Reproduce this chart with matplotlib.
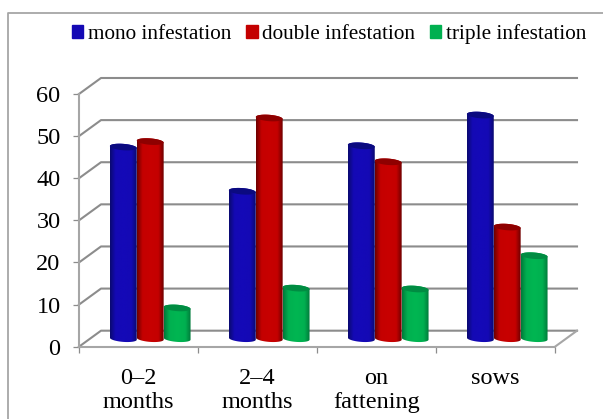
import numpy as np
import matplotlib
matplotlib.use('Agg')
import matplotlib.pyplot as plt
from matplotlib.colors import LinearSegmentedColormap
from matplotlib.lines import Line2D
from matplotlib.patches import Patch, PathPatch
from matplotlib.path import Path

categories = ['0–2\nmonths', '2–4\nmonths', 'on\nfattening', 'sows']
mono = [45.5, 35.0, 45.8, 53.1]
double = [46.8, 52.4, 42.0, 26.5]
triple = [7.3, 12.0, 11.8, 19.7]
series_names = ['mono infestation', 'double infestation', 'triple infestation']
yticks = [0, 10, 20, 30, 40, 50, 60]

GRAY = '#8c8c8c'
W, H = 603, 419
plt.rcParams['font.family'] = 'Liberation Serif'

fig = plt.figure(figsize=(W/100, H/100), dpi=100)
# front plane of the fake 3d box
left, right, top, bottom = 79, 555, 94, 346.7
ax = fig.add_axes([left/W, 1-bottom/H, (right-left)/W, (bottom-top)/H])
ax.set_facecolor('none')

# depth of the box in data units
dx = 22/119
dy = 16/4.21

# outer frame
fig.add_artist(Line2D([8/W, 8/W, 1], [0, 1-13/H, 1-13/H], color='#a6a6a6', lw=1.3))

# back wall, side wall and floor
for v in yticks:
    ax.plot([-0.5, -0.5+dx, 3.5+dx], [v, v+dy, v+dy], color=GRAY, lw=1.5, clip_on=False, zorder=1)
ax.plot([3.5, 3.5+dx], [0, dy], color='#a6a6a6', lw=1.5, clip_on=False, zorder=1)


def cylinder(x, v, w, cols, cap):
    # body outline with tilted ellipse ends, value is read at mid depth
    a = w/2
    b = 3.2/4.21
    k = 1.0/4.21
    base = dy/2
    h = base + v
    t1 = np.linspace(np.pi, 2*np.pi, 30)
    t2 = np.linspace(0, np.pi, 30)
    xs = np.r_[x+a*np.cos(t1), x+a*np.cos(t2)]
    ys = np.r_[base+b*np.sin(t1)-k*np.cos(t1), h+b*np.sin(t2)-k*np.cos(t2)]
    clip = PathPatch(Path(np.c_[xs, ys]), transform=ax.transData, fc='none', ec='none')
    ax.add_patch(clip)
    cmap = LinearSegmentedColormap.from_list('c', list(zip([0, 0.2, 0.5, 0.8, 1], cols)))
    im = ax.imshow(np.linspace(0, 1, 64)[None, :], extent=[x-a, x+a, base-1, h+1],
                   aspect='auto', cmap=cmap, zorder=3, interpolation='bilinear')
    im.set_clip_path(clip)
    t = np.linspace(0, 2*np.pi, 60)
    ax.fill(x+a*np.cos(t), h+b*np.sin(t)-k*np.cos(t), color=cap, zorder=3, lw=0)


w = 0.226
series = [mono, double, triple]
grads = [['#0a0a70', '#1409b4', '#1409b8', '#1409b4', '#0a0a70'],
         ['#6e0000', '#c40000', '#c80000', '#c40000', '#6e0000'],
         ['#007a3a', '#00b050', '#00b652', '#00b050', '#007a3a']]
caps = ['#0b0a80', '#8e0000', '#008c42']
colors = ['#1409b4', '#c40000', '#00b050']
for i in range(len(categories)):
    for j, vals in enumerate(series):
        cylinder(i + dx/2 + 0.006 + (j-1)*w, vals[i], w, grads[j], caps[j])

ax.set_xlim(-0.5, 3.5)
ax.set_ylim(0, 60)
for s in ['top', 'right']:
    ax.spines[s].set_visible(False)
for s in ['left', 'bottom']:
    ax.spines[s].set_color('#a6a6a6')
    ax.spines[s].set_linewidth(1.5)

ax.set_yticks(yticks)
ax.tick_params(axis='y', labelsize=17.5, color=GRAY, length=4.3, width=0.9, pad=9)
ax.set_xticks(np.arange(-0.5, 4, 1))
ax.set_xticklabels([])
ax.tick_params(axis='x', which='major', color=GRAY, length=4.3, width=0.9)
ax.set_xticks(range(len(categories)), categories, minor=True)
ax.tick_params(axis='x', which='minor', length=0, labelsize=17.5, pad=15)
for lab in ax.get_xticklabels(minor=True):
    lab.set_linespacing(1.22)

handles = [Patch(color=c) for c in colors]
fig.legend(handles, series_names, loc='upper left', bbox_to_anchor=(72/W, 1-24/H), ncol=3,
           frameon=False, fontsize=15.3, handlelength=0.54, handleheight=0.52,
           handletextpad=0.21, columnspacing=0.7, borderpad=0, borderaxespad=0)

fig.savefig('out.png', dpi=100)
